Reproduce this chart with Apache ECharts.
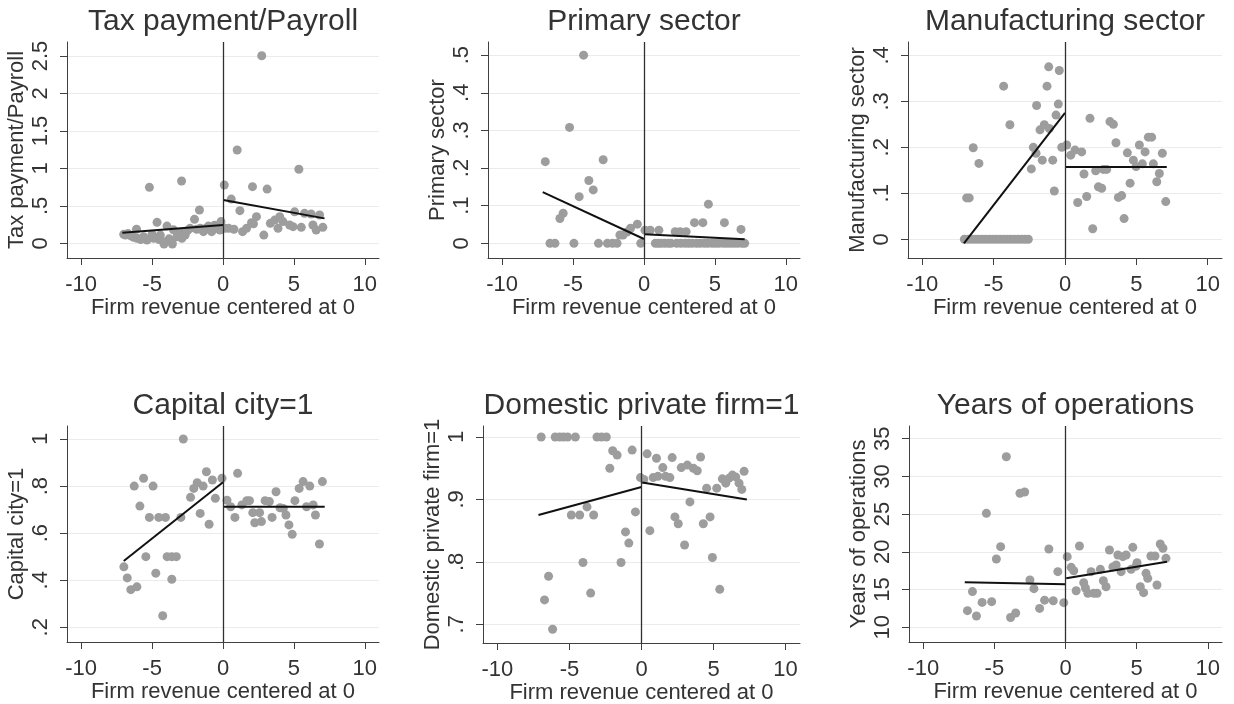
<!DOCTYPE html>
<html>
<head>
<meta charset="utf-8">
<script src="https://cdn.jsdelivr.net/npm/echarts@6/dist/echarts.min.js"></script>
<style>
  html, body { margin: 0; padding: 0; background: #fff; }
  #chart { width: 1234px; height: 704px; }
</style>
</head>
<body>
<div id="chart"></div>
<script>
// x axis shared by all panels
const xTicks = [-10, -5, 0, 5, 10];
const xTitle = 'Firm revenue centered at 0';

// Tax payment/Payroll
const taxPoints = [
  [-7.0, 0.12], [-6.88, 0.11], [-6.7, 0.13], [-6.5, 0.10], [-6.3, 0.08], [-6.1, 0.187], [-6.06, 0.067],
  [-5.8, 0.05], [-5.6, 0.089], [-5.36, 0.044], [-5.19, 0.747], [-5.0, 0.12], [-4.89, 0.067], [-4.65, 0.28],
  [-4.5, 0.05], [-4.42, 0.11], [-4.19, 0.022], [-4.16, -0.01], [-3.95, 0.23], [-3.8, 0.06], [-3.6, 0.022],
  [-3.57, -0.01], [-3.49, 0.18], [-3.25, 0.089], [-3.0, 0.14], [-2.92, 0.831], [-2.9, 0.067], [-2.67, 0.11],
  [-2.5, 0.17], [-2.32, 0.2], [-2.01, 0.32], [-1.85, 0.187], [-1.66, 0.444], [-1.6, 0.2], [-1.38, 0.156],
  [-1.2, 0.2], [-1.03, 0.23], [-0.8, 0.156], [-0.6, 0.24], [-0.49, 0.2], [-0.21, 0.178], [-0.14, 0.29],
  [0.09, 0.778], [0.14, 0.2], [0.4, 0.2], [0.58, 0.59], [0.77, 0.187], [1.0, 1.246], [1.19, 0.436],
  [1.38, 0.156], [1.66, 0.2], [2.01, 0.276], [2.08, 0.756], [2.15, 0.26], [2.36, 0.356], [2.73, 2.504],
  [2.88, 0.11], [3.11, 0.724], [3.34, 0.267], [3.65, 0.31], [3.88, 0.2], [4.0, 0.356], [4.23, 0.29],
  [4.7, 0.244], [4.94, 0.222], [5.05, 0.42], [5.35, 0.988], [5.52, 0.213], [5.75, 0.4], [6.22, 0.39],
  [6.34, 0.244], [6.57, 0.178], [6.81, 0.378], [7.04, 0.213]
];
const taxFitLeft = [[-7.1, 0.142], [0, 0.244]];
const taxFitRight = [[0.02, 0.578], [7.16, 0.333]];
const taxTicks = [0, 0.5, 1, 1.5, 2, 2.5];

// Primary sector
const primaryPoints = [
  [-6.96, 0.217], [-6.63, 0], [-6.28, 0], [-5.93, 0.066], [-5.7, 0.08], [-5.25, 0.308], [-4.94, 0],
  [-4.57, 0.124], [-4.26, 0.5], [-3.89, 0.167], [-3.58, 0.142], [-3.21, 0], [-2.88, 0.222], [-2.58, 0],
  [-2.22, 0], [-1.9, 0], [-1.7, 0.022], [-1.48, 0.022], [-1.2, 0.03], [-0.95, 0.04], [-0.47, 0.051],
  [-0.23, 0],
  [0.07, 0.035], [0.44, 0.035], [1.05, 0.035], [2.2, 0.031], [2.55, 0.031], [2.97, 0.031], [3.56, 0.055],
  [4.15, 0.055], [4.54, 0.104], [5.67, 0.055], [6.84, 0.037],
  [0.8, 0], [1.0, 0], [1.2, 0], [1.45, 0], [1.7, 0], [1.9, 0], [2.3, 0], [2.6, 0], [2.9, 0], [3.15, 0],
  [3.4, 0], [3.7, 0], [3.95, 0], [4.25, 0], [4.5, 0], [4.8, 0], [5.05, 0], [5.3, 0], [5.6, 0], [5.85, 0],
  [6.1, 0], [6.35, 0], [6.6, 0], [6.9, 0], [7.1, 0]
];
const primaryFitLeft = [[-7.14, 0.136], [0, 0.0115]];
const primaryFitRight = [[0.02, 0.024], [7.1, 0.011]];
const primaryTicks = [0, 0.1, 0.2, 0.3, 0.4, 0.5];

// Manufacturing sector
const manufPoints = [
  [-7.05, 0], [-6.8, 0], [-6.55, 0], [-6.3, 0], [-6.05, 0], [-5.8, 0], [-5.55, 0], [-5.3, 0], [-5.05, 0],
  [-4.8, 0], [-4.55, 0], [-4.3, 0], [-4.05, 0], [-3.8, 0], [-3.55, 0], [-3.3, 0], [-3.05, 0], [-2.8, 0],
  [-2.57, 0],
  [-6.89, 0.09], [-6.71, 0.09], [-6.43, 0.199], [-6.03, 0.165], [-4.3, 0.333], [-3.86, 0.249],
  [-2.36, 0.153], [-2.22, 0.2], [-2.03, 0.187], [-1.99, 0.291], [-1.75, 0.238], [-1.59, 0.172],
  [-1.45, 0.249], [-1.26, 0.333], [-1.14, 0.375], [-1.1, 0.241], [-0.86, 0.172], [-0.75, 0.105],
  [-0.63, 0.27], [-0.47, 0.294], [-0.4, 0.367], [-0.23, 0.2],
  [0.12, 0.205], [0.4, 0.183], [0.7, 0.194], [0.89, 0.08], [1.17, 0.19], [1.33, 0.142], [1.52, 0.093],
  [1.75, 0.263], [1.94, 0.023], [2.15, 0.149], [2.34, 0.114], [2.57, 0.111], [2.69, 0.152], [2.92, 0.152],
  [3.15, 0.256], [3.39, 0.25], [3.57, 0.21], [3.74, 0.091], [3.97, 0.095], [4.14, 0.045], [4.37, 0.188],
  [4.56, 0.122], [4.79, 0.172], [4.98, 0.158], [5.21, 0.205], [5.42, 0.164], [5.61, 0.19], [5.84, 0.222],
  [6.07, 0.222], [6.19, 0.164], [6.43, 0.125], [6.61, 0.143], [6.82, 0.187], [7.06, 0.082]
];
const manufFitLeft = [[-7.08, -0.009], [0, 0.275]];
const manufFitRight = [[0.05, 0.157], [7.13, 0.157]];
const manufTicks = [0, 0.1, 0.2, 0.3, 0.4];

// Capital city=1
const capitalPoints = [
  [-6.99, 0.457], [-6.75, 0.41], [-6.5, 0.36], [-6.26, 0.8], [-6.07, 0.372], [-5.86, 0.715], [-5.6, 0.833],
  [-5.44, 0.5], [-5.19, 0.667], [-4.93, 0.8], [-4.74, 0.43], [-4.53, 0.667], [-4.25, 0.249], [-4.06, 0.667],
  [-3.94, 0.5], [-3.61, 0.5], [-3.61, 0.404], [-3.29, 0.5], [-2.97, 0.667], [-2.8, 1.0], [-2.29, 0.752],
  [-2.06, 0.79], [-1.82, 0.814], [-1.61, 0.684], [-1.4, 0.8], [-1.17, 0.861], [-0.98, 0.638],
  [-0.75, 0.826], [-0.54, 0.748], [-0.07, 0.833],
  [0.28, 0.74], [0.54, 0.712], [0.84, 0.667], [1.03, 0.854], [1.33, 0.72], [1.68, 0.738], [1.87, 0.738],
  [2.1, 0.687], [2.24, 0.644], [2.58, 0.687], [2.71, 0.649], [2.97, 0.738], [3.27, 0.734], [3.46, 0.667],
  [3.74, 0.776], [4.02, 0.708], [4.25, 0.705], [4.44, 0.677], [4.65, 0.635], [4.88, 0.595], [5.07, 0.738],
  [5.37, 0.79], [5.65, 0.819], [5.89, 0.712], [6.12, 0.8], [6.36, 0.72], [6.52, 0.677], [6.8, 0.554],
  [7.01, 0.819]
];
const capitalFitLeft = [[-7.0, 0.482], [0, 0.816]];
const capitalFitRight = [[0, 0.712], [7.17, 0.712]];
const capitalTicks = [0.2, 0.4, 0.6, 0.8, 1];

// Domestic private firm=1
const domesticPoints = [
  [-6.96, 1], [-5.99, 1], [-5.68, 1], [-5.41, 1], [-5.13, 1], [-4.59, 1], [-3.09, 1], [-2.78, 1], [-2.44, 1],
  [-2.2, 0.95], [-2.0, 0.978], [-1.69, 0.971], [-0.65, 0.979], [-6.45, 0.777], [-6.73, 0.739],
  [-6.17, 0.692], [-4.87, 0.875], [-4.29, 0.875], [-3.78, 0.888], [-3.32, 0.875], [-4.06, 0.799],
  [-3.53, 0.75], [-1.42, 0.799], [-1.11, 0.848], [-0.88, 0.83], [-0.42, 0.88], [-0.07, 0.935],
  [0.16, 0.932], [0.39, 0.973], [0.58, 0.85], [0.81, 0.935], [1.04, 0.966], [1.14, 0.937], [1.48, 0.951],
  [1.67, 0.937], [1.97, 0.935], [2.13, 0.967], [2.32, 0.872], [2.55, 0.861], [2.76, 0.951], [2.99, 0.827],
  [3.18, 0.955], [3.36, 0.896], [3.6, 0.95], [3.87, 0.946], [4.1, 0.968], [4.29, 0.861], [4.52, 0.918],
  [4.76, 0.872], [4.92, 0.807], [5.22, 0.918], [5.43, 0.756], [5.61, 0.933], [5.85, 0.926], [6.08, 0.934],
  [6.31, 0.939], [6.54, 0.936], [6.77, 0.926], [6.96, 0.916], [7.12, 0.945]
];
const domesticFitLeft = [[-7.15, 0.875], [0, 0.92]];
const domesticFitRight = [[0.05, 0.927], [7.31, 0.9]];
const domesticTicks = [0.7, 0.8, 0.9, 1];

// Years of operations
const yearsPoints = [
  [-6.89, 12.2], [-6.54, 14.73], [-6.26, 11.5], [-5.86, 13.3], [-5.56, 25.1], [-5.19, 13.4], [-4.86, 19.05],
  [-4.56, 20.69], [-4.16, 32.6], [-3.86, 11.3], [-3.5, 11.9], [-3.2, 27.76], [-2.87, 27.93], [-2.5, 16.27],
  [-2.22, 15.12], [-1.82, 12.5], [-1.47, 13.6], [-1.17, 20.38], [-0.86, 13.52], [-0.54, 17.37],
  [-0.12, 13.26],
  [0.12, 19.36], [0.4, 17.95], [0.58, 17.5], [0.75, 14.85], [0.98, 20.77], [1.28, 15.91], [1.4, 15.2],
  [1.57, 14.5], [1.8, 17.37], [1.99, 14.5], [2.22, 14.5], [2.45, 17.68], [2.66, 16.17], [2.85, 15.38],
  [3.09, 20.24], [3.33, 18.0], [3.56, 18.25], [3.68, 19.58], [3.91, 17.37], [4.03, 19.36], [4.26, 19.58],
  [4.61, 17.68], [4.73, 20.6], [4.96, 18.1], [5.03, 18.56], [5.26, 15.38], [5.49, 14.59], [5.66, 17.15],
  [5.78, 16.49], [6.0, 19.45], [6.29, 19.45], [6.43, 15.6], [6.66, 21.04], [6.85, 20.47], [7.06, 19.14]
];
const yearsFitLeft = [[-7.08, 15.96], [0, 15.7]];
const yearsFitRight = [[0.05, 16.49], [7.13, 18.7]];
const yearsTicks = [10, 15, 20, 25, 30, 35];

const FONT = '"Liberation Sans", Arial, sans-serif';
const TEXT = '#333333';

// panel layout (pixels) and axis ranges
const panels = [
  { title: 'Tax payment/Payroll', points: taxPoints, fitL: taxFitLeft, fitR: taxFitRight, ticks: taxTicks,
    step: 0.5, min: -0.196, max: 2.687, grid: { left: 67, top: 42, width: 312, height: 216 } },
  { title: 'Primary sector', points: primaryPoints, fitL: primaryFitLeft, fitR: primaryFitRight, ticks: primaryTicks,
    step: 0.1, min: -0.039, max: 0.535, grid: { left: 488, top: 42, width: 312, height: 216 } },
  { title: 'Manufacturing sector', points: manufPoints, fitL: manufFitLeft, fitR: manufFitRight, ticks: manufTicks,
    step: 0.1, min: -0.0407, max: 0.429, grid: { left: 908, top: 42, width: 314, height: 216 } },
  { title: 'Capital city=1', points: capitalPoints, fitL: capitalFitLeft, fitR: capitalFitRight, ticks: capitalTicks,
    step: 0.2, min: 0.1376, max: 1.0552, grid: { left: 67, top: 426, width: 312, height: 216 } },
  { title: 'Domestic private firm=1', points: domesticPoints, fitL: domesticFitLeft, fitR: domesticFitRight, ticks: domesticTicks,
    step: 0.1, min: 0.670, max: 1.0176, grid: { left: 483, top: 426, width: 317, height: 217 } },
  { title: 'Years of operations', points: yearsPoints, fitL: yearsFitLeft, fitR: yearsFitRight, ticks: yearsTicks,
    step: 5, min: 8.05, max: 36.68, grid: { left: 909, top: 426, width: 313, height: 216 } }
];

// Stata style labels: ".5" instead of "0.5"
const stataLabel = v => String(+(+v).toFixed(4)).replace(/^(-?)0\./, '$1.');

const axisLine = { show: true, onZero: false, lineStyle: { color: '#404040', width: 1 } };
const axisTick = { show: true, length: 7, lineStyle: { color: '#404040', width: 1 } };

const option = {
  animation: false,
  backgroundColor: '#ffffff',
  grid: [], xAxis: [], yAxis: [], series: [], graphic: []
};

panels.forEach((p, i) => {
  option.grid.push(Object.assign({ containLabel: false, outerBoundsMode: 'none' }, p.grid));
  option.xAxis.push({
    type: 'value', gridIndex: i, min: -11, max: 11, minInterval: 5, maxInterval: 5,
    axisLine: axisLine,
    axisTick: Object.assign({ customValues: xTicks }, axisTick),
    axisLabel: { customValues: xTicks, margin: 16, fontSize: 22, color: TEXT, fontFamily: FONT },
    splitLine: { show: false },
    name: xTitle, nameLocation: 'middle', nameGap: 33,
    nameTextStyle: { fontSize: 22, color: TEXT, fontFamily: FONT }
  });
  option.yAxis.push({
    type: 'value', gridIndex: i, min: p.min, max: p.max, minInterval: p.step, maxInterval: p.step,
    axisLine: axisLine,
    axisTick: Object.assign({ customValues: p.ticks }, axisTick),
    axisLabel: { customValues: p.ticks, rotate: 90, margin: 15, fontSize: 22, color: TEXT, fontFamily: FONT,
      formatter: stataLabel },
    splitLine: { show: true, lineStyle: { color: '#ebebeb', width: 1 } },
    name: p.title, nameLocation: 'middle', nameGap: 39,
    nameTextStyle: { fontSize: 22, color: TEXT, fontFamily: FONT }
  });
  option.series.push({
    type: 'scatter', xAxisIndex: i, yAxisIndex: i, data: p.points,
    symbolSize: 9, itemStyle: { color: '#9d9d9d', opacity: 1 }, z: 2,
    markLine: {
      silent: true, symbol: ['none', 'none'], label: { show: false },
      lineStyle: { color: '#303030', width: 1.3, type: 'solid' },
      data: [{ xAxis: 0 }]
    }
  });
  [p.fitL, p.fitR].forEach(seg => {
    option.series.push({
      type: 'line', xAxisIndex: i, yAxisIndex: i, data: seg, showSymbol: false, z: 3,
      lineStyle: { color: '#111111', width: 2 }
    });
  });
  option.graphic.push({
    type: 'text',
    x: p.grid.left + p.grid.width / 2,
    y: i < 3 ? 22 : 406,
    style: { text: p.title, fontSize: 30, fontFamily: FONT, fill: TEXT,
      textAlign: 'center', textVerticalAlign: 'middle', verticalAlign: 'middle' }
  });
});

const chart = echarts.init(document.getElementById('chart'));
chart.setOption(option);
</script>
</body>
</html>
